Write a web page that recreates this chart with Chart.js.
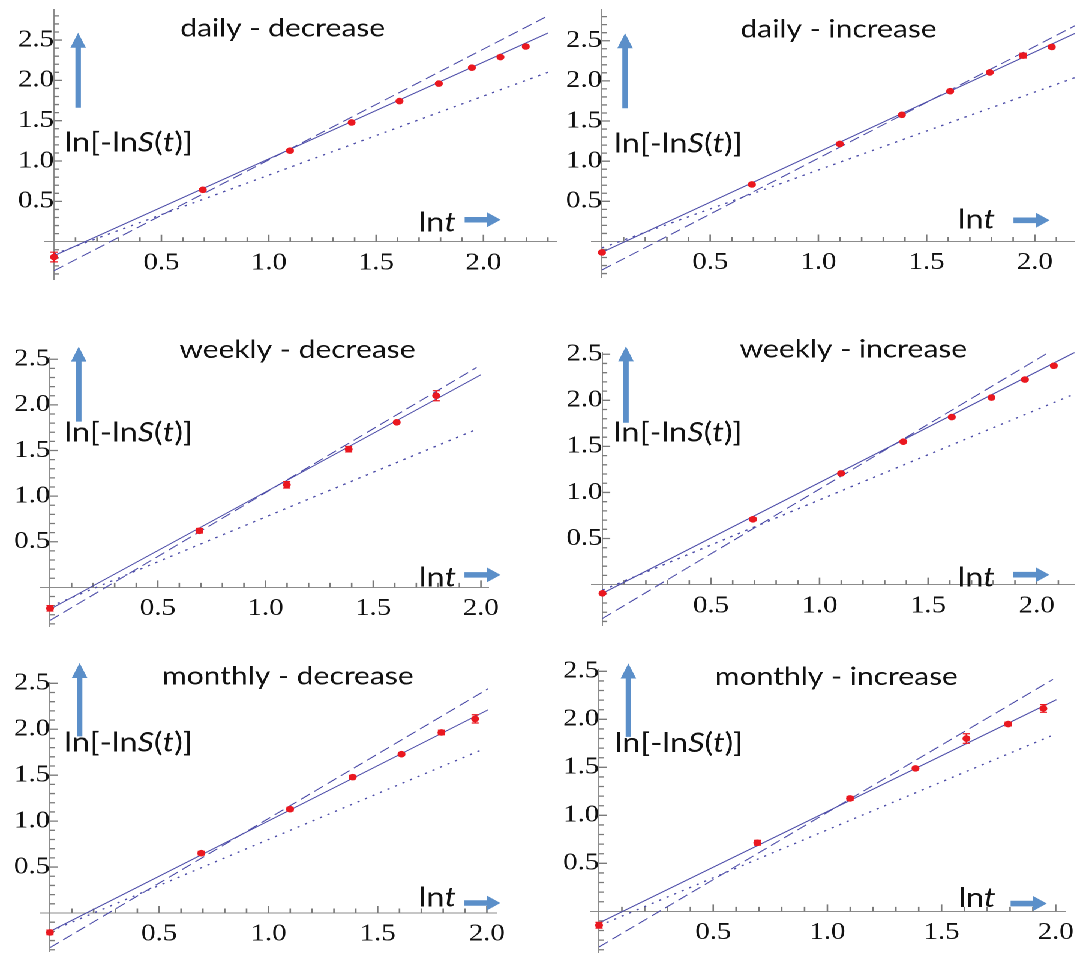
<!DOCTYPE html>
<html>
<head>
<meta charset="utf-8">
<script src="https://cdn.jsdelivr.net/npm/chart.js@4.4.1/dist/chart.umd.min.js"></script>
<style>
  html, body { margin: 0; padding: 0; background: #fff; overflow: hidden; }
  #wrap { position: absolute; left: 0; top: 0; width: 896px; height: 956px; transform: scaleX(1.2); transform-origin: 0 0; }
  #wrap canvas { position: absolute; }
</style>
</head>
<body>
<div id="wrap"></div>
<script>
// ln t, t = 1..9
const lnT = [0, 0.693, 1.099, 1.386, 1.609, 1.792, 1.946, 2.079, 2.197];
const tickLabels = ['0.5', '1.0', '1.5', '2.0', '2.5'];
const titles = ['daily - decrease', 'daily - increase', 'weekly - decrease',
                'weekly - increase', 'monthly - decrease', 'monthly - increase'];

// measured points ln[-lnS(t)] and their error bars
const dailyDecreaseY = [-0.19, 0.643, 1.128, 1.478, 1.743, 1.96, 2.157, 2.289, 2.42];
const dailyDecreaseErr = [0.06, 0.015, 0.015, 0.012, 0.012, 0.012, 0.012, 0.012, 0.015];
const dailyIncreaseY = [-0.137, 0.71, 1.214, 1.577, 1.871, 2.105, 2.315, 2.423];
const dailyIncreaseErr = [0.012, 0.015, 0.012, 0.012, 0.012, 0.012, 0.03, 0.02];
const weeklyDecreaseY = [-0.23, 0.62, 1.124, 1.514, 1.809, 2.10];
const weeklyDecreaseErr = [0.03, 0.025, 0.035, 0.03, 0.012, 0.055];
const weeklyIncreaseY = [-0.095, 0.709, 1.207, 1.551, 1.818, 2.03, 2.225, 2.375];
const weeklyIncreaseErr = [0.012, 0.015, 0.012, 0.012, 0.012, 0.012, 0.012, 0.012];
const monthlyDecreaseY = [-0.211, 0.651, 1.13, 1.479, 1.729, 1.965, 2.113];
const monthlyDecreaseErr = [0.025, 0.02, 0.02, 0.02, 0.015, 0.025, 0.045];
const monthlyIncreaseY = [-0.145, 0.714, 1.176, 1.489, 1.80, 1.951, 2.113];
const monthlyIncreaseErr = [0.03, 0.025, 0.02, 0.015, 0.05, 0.02, 0.04];

// fitted lines as [x0, y0, x1, y1]
const dailyDecreaseSolid = [0, -0.173, 2.30, 2.587];
const dailyDecreaseDashed = [0, -0.36, 2.30, 2.80];
const dailyDecreaseDotted = [0, -0.155, 2.30, 2.10];
const dailyIncreaseSolid = [0, -0.135, 2.185, 2.59];
const dailyIncreaseDashed = [0, -0.355, 2.185, 2.686];
const dailyIncreaseDotted = [0, -0.08, 2.185, 2.04];
const weeklyDecreaseSolid = [0, -0.24, 2.0, 2.33];
const weeklyDecreaseDashed = [0, -0.362, 1.98, 2.41];
const weeklyDecreaseDotted = [0, -0.21, 1.968, 1.72];
const weeklyIncreaseSolid = [0, -0.095, 2.175, 2.52];
const weeklyIncreaseDashed = [0, -0.368, 2.175, 2.688];
const weeklyIncreaseDotted = [0, -0.06, 2.175, 2.07];
const monthlyDecreaseSolid = [0, -0.20, 2.005, 2.211];
const monthlyDecreaseDashed = [0, -0.377, 2.005, 2.44];
const monthlyDecreaseDotted = [0, -0.2, 1.989, 1.789];
const monthlyIncreaseSolid = [0, -0.121, 2.003, 2.204];
const monthlyIncreaseDashed = [0, -0.371, 1.988, 2.416];
const monthlyIncreaseDotted = [0, -0.15, 1.978, 1.826];

const S = 1.2;           // the figure is stretched horizontally
const PAD = { left: 48, right: 12, top: 16, bottom: 16 };
const AXIS = '#8c8c8c';
const TICK = '#7a7a7a';
const LINE = '#4c4ca8';
const RED = '#ea1820';
const ARROW = '#5b8fc9';
const SANS = 'Lato';

// page layout of each panel: axis origin, px per unit, axis ranges, and the notes
const panels = [
  { y: dailyDecreaseY, err: dailyDecreaseErr, lines: [dailyDecreaseSolid, dailyDecreaseDashed, dailyDecreaseDotted],
    ox: 54.4, oy: 244.3, ux: 214.7, uy: 83.0, xmin: -0.045, xmax: 2.34, ymin: -0.47, ymax: 2.88,
    title: [283, 37], up: [78.5, 108, 33], ylab: [64.7, 152], xlab: [419, 232], right: [465, 501, 220] },
  { y: dailyIncreaseY, err: dailyIncreaseErr, lines: [dailyIncreaseSolid, dailyIncreaseDashed, dailyIncreaseDotted],
    ox: 602.1, oy: 243.7, ux: 216.4, uy: 82.7, xmin: -0.048, xmax: 2.185, ymin: -0.45, ymax: 2.89,
    title: [838.7, 37], up: [625.2, 108, 33], ylab: [614.2, 152], xlab: [957.9, 228], right: [1013.6, 1049.8, 220] },
  { y: weeklyDecreaseY, err: weeklyDecreaseErr, lines: [weeklyDecreaseSolid, weeklyDecreaseDashed, weeklyDecreaseDotted],
    ox: 50.6, oy: 590, ux: 217.5, uy: 94, xmin: -0.043, xmax: 2.034, ymin: -0.43, ymax: 2.52,
    title: [297.9, 358], up: [79.2, 421.7, 346.7], ylab: [64.7, 441.7], xlab: [419.4, 586.7], right: [464.9, 501, 575] },
  { y: weeklyIncreaseY, err: weeklyIncreaseErr, lines: [weeklyIncreaseSolid, weeklyIncreaseDashed, weeklyIncreaseDotted],
    ox: 602.8, oy: 587.7, ux: 217.1, uy: 95, xmin: -0.05, xmax: 2.175, ymin: -0.445, ymax: 2.52,
    title: [853.7, 358], up: [626.3, 423, 346.7], ylab: [614.2, 441.7], xlab: [957.9, 586.7], right: [1013.6, 1049.8, 575] },
  { y: monthlyDecreaseY, err: monthlyDecreaseErr, lines: [monthlyDecreaseSolid, monthlyDecreaseDashed, monthlyDecreaseDotted],
    ox: 50.6, oy: 916, ux: 219.5, uy: 94.7, xmin: -0.042, xmax: 2.045, ymin: -0.42, ymax: 2.51,
    title: [288.4, 685], up: [80.2, 736.7, 663.3], ylab: [64.7, 751.7], xlab: [419.4, 906.7], right: [465, 501, 903.3] },
  { y: monthlyIncreaseY, err: monthlyIncreaseErr, lines: [monthlyIncreaseSolid, monthlyIncreaseDashed, monthlyIncreaseDotted],
    ox: 598.7, oy: 914, ux: 229.5, uy: 98.9, xmin: -0.038, xmax: 2.04, ymin: -0.43, ymax: 2.52,
    title: [836, 685], up: [628, 736.7, 663.3], ylab: [614.2, 751.7], xlab: [957.9, 906.7], right: [1010.2, 1046.4, 903.3] }
];

function tickLabel(value) {
  const s = (Math.round(value * 10) / 10).toFixed(1);
  return tickLabels.includes(s) ? s : '';
}

function richText(ctx, parts, x, y, size) {
  let cx = x;
  parts.forEach(([txt, it]) => {
    ctx.font = (it ? 'italic ' : '') + size + 'px ' + SANS;
    ctx.fillText(txt, cx, y);
    cx += ctx.measureText(txt).width;
  });
}

// tail (x1,y1) to tip (x2,y2)
function arrow(ctx, x1, y1, x2, y2, head, hw, shaft) {
  const ang = Math.atan2(y2 - y1, x2 - x1);
  const len = Math.hypot(x2 - x1, y2 - y1);
  ctx.save();
  ctx.translate(x1, y1);
  ctx.rotate(ang);
  ctx.fillStyle = ARROW;
  ctx.beginPath();
  ctx.moveTo(0, -shaft);
  ctx.lineTo(len - head, -shaft);
  ctx.lineTo(len - head, -hw);
  ctx.lineTo(len, 0);
  ctx.lineTo(len - head, hw);
  ctx.lineTo(len - head, shaft);
  ctx.lineTo(0, shaft);
  ctx.closePath();
  ctx.fill();
  ctx.restore();
}

// inward tick marks, major every 0.5, minor every 0.1
function drawAxisTicks(chart) {
  const ctx = chart.ctx;
  const xs = chart.scales.x, ys = chart.scales.y;
  const x0 = xs.getPixelForValue(0), y0 = ys.getPixelForValue(0);
  ctx.save();
  ctx.strokeStyle = TICK;
  ctx.lineWidth = 1.3;
  ctx.setLineDash([]);
  ctx.beginPath();
  for (let v = Math.ceil(xs.min * 10); v <= Math.floor(xs.max * 10); v++) {
    if (v === 0) continue;
    const px = xs.getPixelForValue(v / 10);
    const len = v % 5 === 0 ? 7 : 4.5;
    ctx.moveTo(px, y0);
    ctx.lineTo(px, y0 - len);
  }
  for (let v = Math.ceil(ys.min * 10); v <= Math.floor(ys.max * 10); v++) {
    if (v === 0) continue;
    const py = ys.getPixelForValue(v / 10);
    const len = v % 5 === 0 ? 6.5 : 4;
    ctx.moveTo(x0, py);
    ctx.lineTo(x0 + len, py);
  }
  ctx.stroke();
  ctx.restore();
}

function makeDecor(p, idx, cLeft, cTop) {
  const lx = x => x / S - cLeft;
  const ly = y => y - cTop;
  return {
    id: 'decor' + idx,
    beforeDatasetsDraw(chart) {
      drawAxisTicks(chart);
    },
    afterDraw(chart) {
      const ctx = chart.ctx;
      const xs = chart.scales.x, ys = chart.scales.y;

      // error bars
      ctx.save();
      ctx.strokeStyle = RED;
      ctx.lineWidth = 1.2;
      chart.data.datasets[0].data.forEach((pt, i) => {
        const e = p.err[i];
        const px = xs.getPixelForValue(pt.x);
        const top = ys.getPixelForValue(pt.y + e), bot = ys.getPixelForValue(pt.y - e);
        ctx.beginPath();
        ctx.moveTo(px, top); ctx.lineTo(px, bot);
        ctx.moveTo(px - 3, top); ctx.lineTo(px + 3, top);
        ctx.moveTo(px - 3, bot); ctx.lineTo(px + 3, bot);
        ctx.stroke();
      });
      ctx.restore();

      // titles, axis notes and arrows
      ctx.save();
      ctx.fillStyle = '#111';
      ctx.textBaseline = 'alphabetic';
      ctx.textAlign = 'center';
      ctx.font = '25px ' + SANS;
      ctx.fillText(titles[idx], lx(p.title[0]), ly(p.title[1]));
      ctx.textAlign = 'left';
      richText(ctx, [['ln[-ln', false], ['S', true], ['(', false], ['t', true], [')]', false]],
        lx(p.ylab[0]), ly(p.ylab[1]), 27);
      richText(ctx, [['ln', false], ['t', true]], lx(p.xlab[0]), ly(p.xlab[1]), 27);
      arrow(ctx, lx(p.up[0]), ly(p.up[1]), lx(p.up[0]), ly(p.up[2]), 15, 6.5, 2.3);
      arrow(ctx, lx(p.right[0]), ly(p.right[2]), lx(p.right[1]), ly(p.right[2]), 11.5, 7.5, 2.8);
      ctx.restore();
    }
  };
}

const wrap = document.getElementById('wrap');

panels.forEach((p, idx) => {
  const L = (p.ox + p.xmin * p.ux) / S, R = (p.ox + p.xmax * p.ux) / S;
  const T = p.oy - p.ymax * p.uy, B = p.oy - p.ymin * p.uy;
  const cLeft = L - PAD.left, cTop = T - PAD.top;
  const w = Math.ceil(R - L + PAD.left + PAD.right);
  const h = Math.ceil(B - T + PAD.top + PAD.bottom);
  const cv = document.createElement('canvas');
  cv.width = w; cv.height = h;
  cv.style.left = cLeft + 'px';
  cv.style.top = cTop + 'px';
  cv.style.width = w + 'px';
  cv.style.height = h + 'px';
  wrap.appendChild(cv);

  const pts = p.y.map((y, i) => ({ x: lnT[i], y: y }));
  const seg = (l, dash, width) => ({
    type: 'line',
    data: [{ x: l[0], y: l[1] }, { x: l[2], y: l[3] }],
    showLine: true, pointRadius: 0, borderColor: LINE, borderWidth: width,
    borderDash: dash, fill: false
  });

  new Chart(cv, {
    type: 'scatter',
    data: {
      datasets: [
        { data: pts, pointRadius: 3.3, pointBackgroundColor: RED, pointBorderWidth: 0, pointHoverRadius: 3.3 },
        seg(p.lines[0], [], 1),
        seg(p.lines[1], [9, 4.5], 1),
        seg(p.lines[2], [2, 5], 1.3)
      ]
    },
    options: {
      responsive: false,
      animation: false,
      devicePixelRatio: 2,
      events: [],
      layout: { padding: { left: PAD.left, top: PAD.top, right: w - (R - L) - PAD.left, bottom: h - (B - T) - PAD.top } },
      plugins: { legend: { display: false }, tooltip: { enabled: false } },
      scales: {
        x: {
          type: 'linear', min: p.xmin, max: p.xmax, position: { y: 0 },
          afterFit: s => { s.height = 0; },
          grid: { drawOnChartArea: false, drawTicks: false },
          border: { color: AXIS, width: 1 },
          ticks: {
            stepSize: 0.1, includeBounds: false, autoSkip: false, maxRotation: 0, maxTicksLimit: 100,
            padding: 7, color: '#111', font: { family: 'Liberation Serif', size: 24 },
            callback: tickLabel
          }
        },
        y: {
          type: 'linear', min: p.ymin, max: p.ymax, position: { x: 0 },
          afterFit: s => { s.width = 0; },
          grid: { drawOnChartArea: false, drawTicks: false },
          border: { color: AXIS, width: 1 },
          ticks: {
            stepSize: 0.1, includeBounds: false, autoSkip: false, maxTicksLimit: 100,
            padding: 6, color: '#111', font: { family: 'Liberation Serif', size: 24 },
            callback: tickLabel
          }
        }
      }
    },
    plugins: [makeDecor(p, idx, cLeft, cTop)]
  });
});
</script>
</body>
</html>
